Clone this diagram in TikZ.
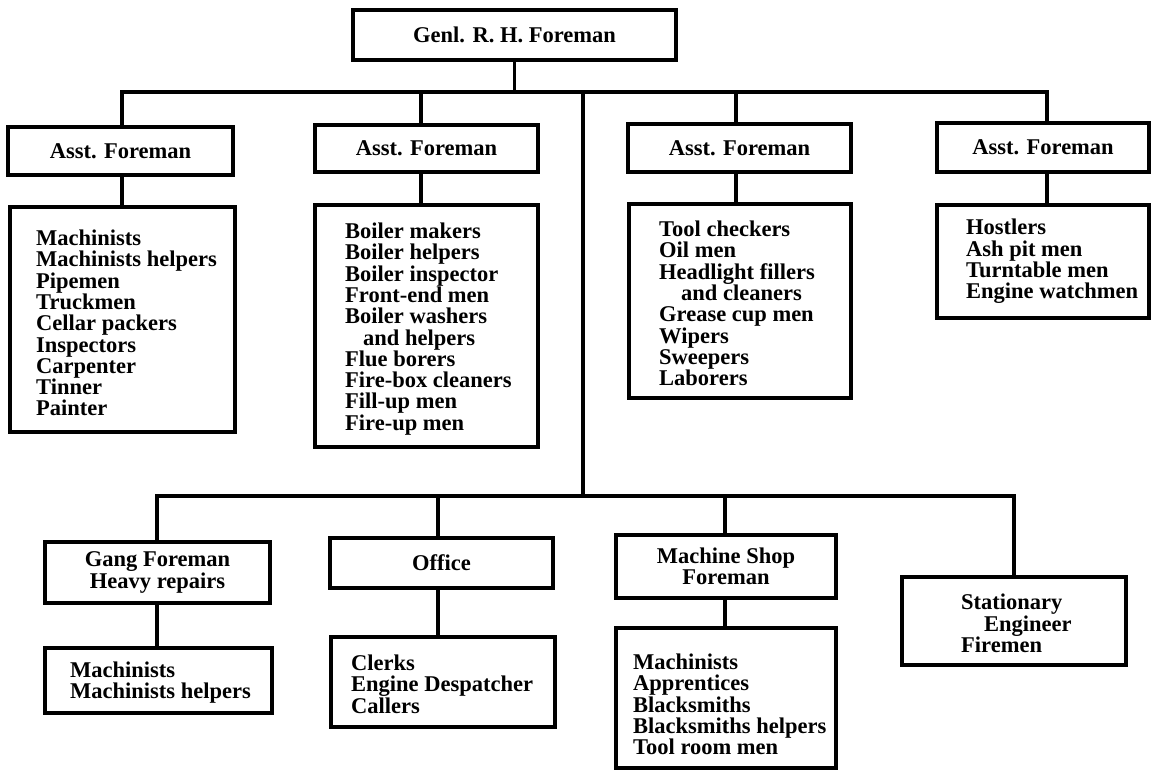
\documentclass[tikz,border=0pt]{standalone}
\usepackage{fontspec}
\setmainfont{Liberation Serif}
\newcommand\chartfont{\fontsize{22.5}{21.3}\selectfont\bfseries}
\tikzset{
  box/.style={draw, line width=3.5pt, inner sep=0pt, font=\chartfont, align=center},
  txt/.style={inner sep=0pt, font=\chartfont, align=left, anchor=west},
  conn/.style={line width=3.5pt, line join=miter},
}
\begin{document}
\begin{tikzpicture}[x=1pt,y=-1pt]
\useasboundingbox (0,0) rectangle (1152,771);

% top
\node[box, minimum width=323pt, minimum height=50pt] (top) at (514.5,35) {Genl. R. H. Foreman};

% assistant foremen
\node[box, minimum width=225pt, minimum height=48pt] (asst1) at (120.5,151) {Asst. Foreman};
\node[box, minimum width=223pt, minimum height=47pt] (asst2) at (426.5,148.5) {Asst. Foreman};
\node[box, minimum width=223pt, minimum height=48pt] (asst3) at (739.5,148) {Asst. Foreman};
\node[box, minimum width=212pt, minimum height=49pt] (asst4) at (1043,147.5) {Asst. Foreman};

% upper lists
\node[box, minimum width=225pt, minimum height=225pt] (list1) at (122.5,319.5) {};
\node[txt] (list1t) at (36,323) {Machinists\\Machinists helpers\\Pipemen\\Truckmen\\Cellar packers\\Inspectors\\Carpenter\\Tinner\\Painter};
\node[box, minimum width=223pt, minimum height=242pt] (list2) at (426.5,326) {};
\node[txt] (list2t) at (345,329) {Boiler makers\\Boiler helpers\\Boiler inspector\\Front-end men\\Boiler washers\\\hspace{18pt}and helpers\\Flue borers\\Fire-box cleaners\\Fill-up men\\Fire-up men};
\node[box, minimum width=222pt, minimum height=194pt] (list3) at (740,301) {};
\node[txt] (list3t) at (659,303.5) {Tool checkers\\Oil men\\Headlight fillers\\\hspace{22pt}and cleaners\\Grease cup men\\Wipers\\Sweepers\\Laborers};
\node[box, minimum width=212pt, minimum height=113pt] (list4) at (1043,261.5) {};
\node[txt] (list4t) at (966,261.5) {Hostlers\\Ash pit men\\Turntable men\\Engine watchmen};

% lower row
\node[box, minimum width=225pt, minimum height=61pt] (gang) at (157.5,572.5) {Gang Foreman\\Heavy repairs};
\node[box, minimum width=227pt, minimum height=65pt] (gangl) at (158.5,680.5) {};
\node[txt] (ganglt) at (70,682.5) {Machinists\\Machinists helpers};
\node[box, minimum width=223pt, minimum height=50pt] (office) at (441.5,563) {Office};
\node[box, minimum width=224pt, minimum height=90pt] (officel) at (443,682) {};
\node[txt] (officelt) at (351,684) {Clerks\\Engine Despatcher\\Callers};
\node[box, minimum width=220pt, minimum height=63pt] (ms) at (726,566.5) {Machine Shop\\Foreman};
\node[box, minimum width=220pt, minimum height=140pt] (msl) at (726,698) {};
\node[txt] (mslt) at (633,704.5) {Machinists\\Apprentices\\Blacksmiths\\Blacksmiths helpers\\Tool room men};
\node[box, minimum width=224pt, minimum height=88pt] (stat) at (1014,621) {};
\node[txt] (statt) at (961,623.5) {Stationary\\\hspace{23pt}Engineer\\Firemen};

% bus coordinates
\coordinate (bus1) at (122,92);
\coordinate (bus2) at (421,92);
\coordinate (busc) at (583,92);
\coordinate (bus3) at (736,92);
\coordinate (bus4) at (1047,92);
\coordinate (low1) at (157,496);
\coordinate (low2) at (438,496);
\coordinate (lowc) at (583,496);
\coordinate (low3) at (725,496);
\coordinate (low4) at (1014,496);

% connectors
\draw[conn] (top.south) -- (top.south |- bus1);
\draw[conn] (bus1 |- asst1.north) -- (bus1) -- (bus4) -- (bus4 |- asst4.north);
\draw[conn] (bus2) -- (bus2 |- asst2.north);
\draw[conn] (bus3) -- (bus3 |- asst3.north);
\draw[conn] (busc) -- (lowc);
\draw[conn] (asst1.south -| bus1) -- (list1.north -| bus1);
\draw[conn] (asst2.south -| bus2) -- (list2.north -| bus2);
\draw[conn] (asst3.south -| bus3) -- (list3.north -| bus3);
\draw[conn] (asst4.south -| bus4) -- (list4.north -| bus4);

\draw[conn] (low1 |- gang.north) -- (low1) -- (low4) -- (low4 |- stat.north);
\draw[conn] (low2) -- (low2 |- office.north);
\draw[conn] (low3) -- (low3 |- ms.north);
\draw[conn] (gang.south -| low1) -- (gangl.north -| low1);
\draw[conn] (office.south -| low2) -- (officel.north -| low2);
\draw[conn] (ms.south -| low3) -- (msl.north -| low3);
\end{tikzpicture}
\end{document}
